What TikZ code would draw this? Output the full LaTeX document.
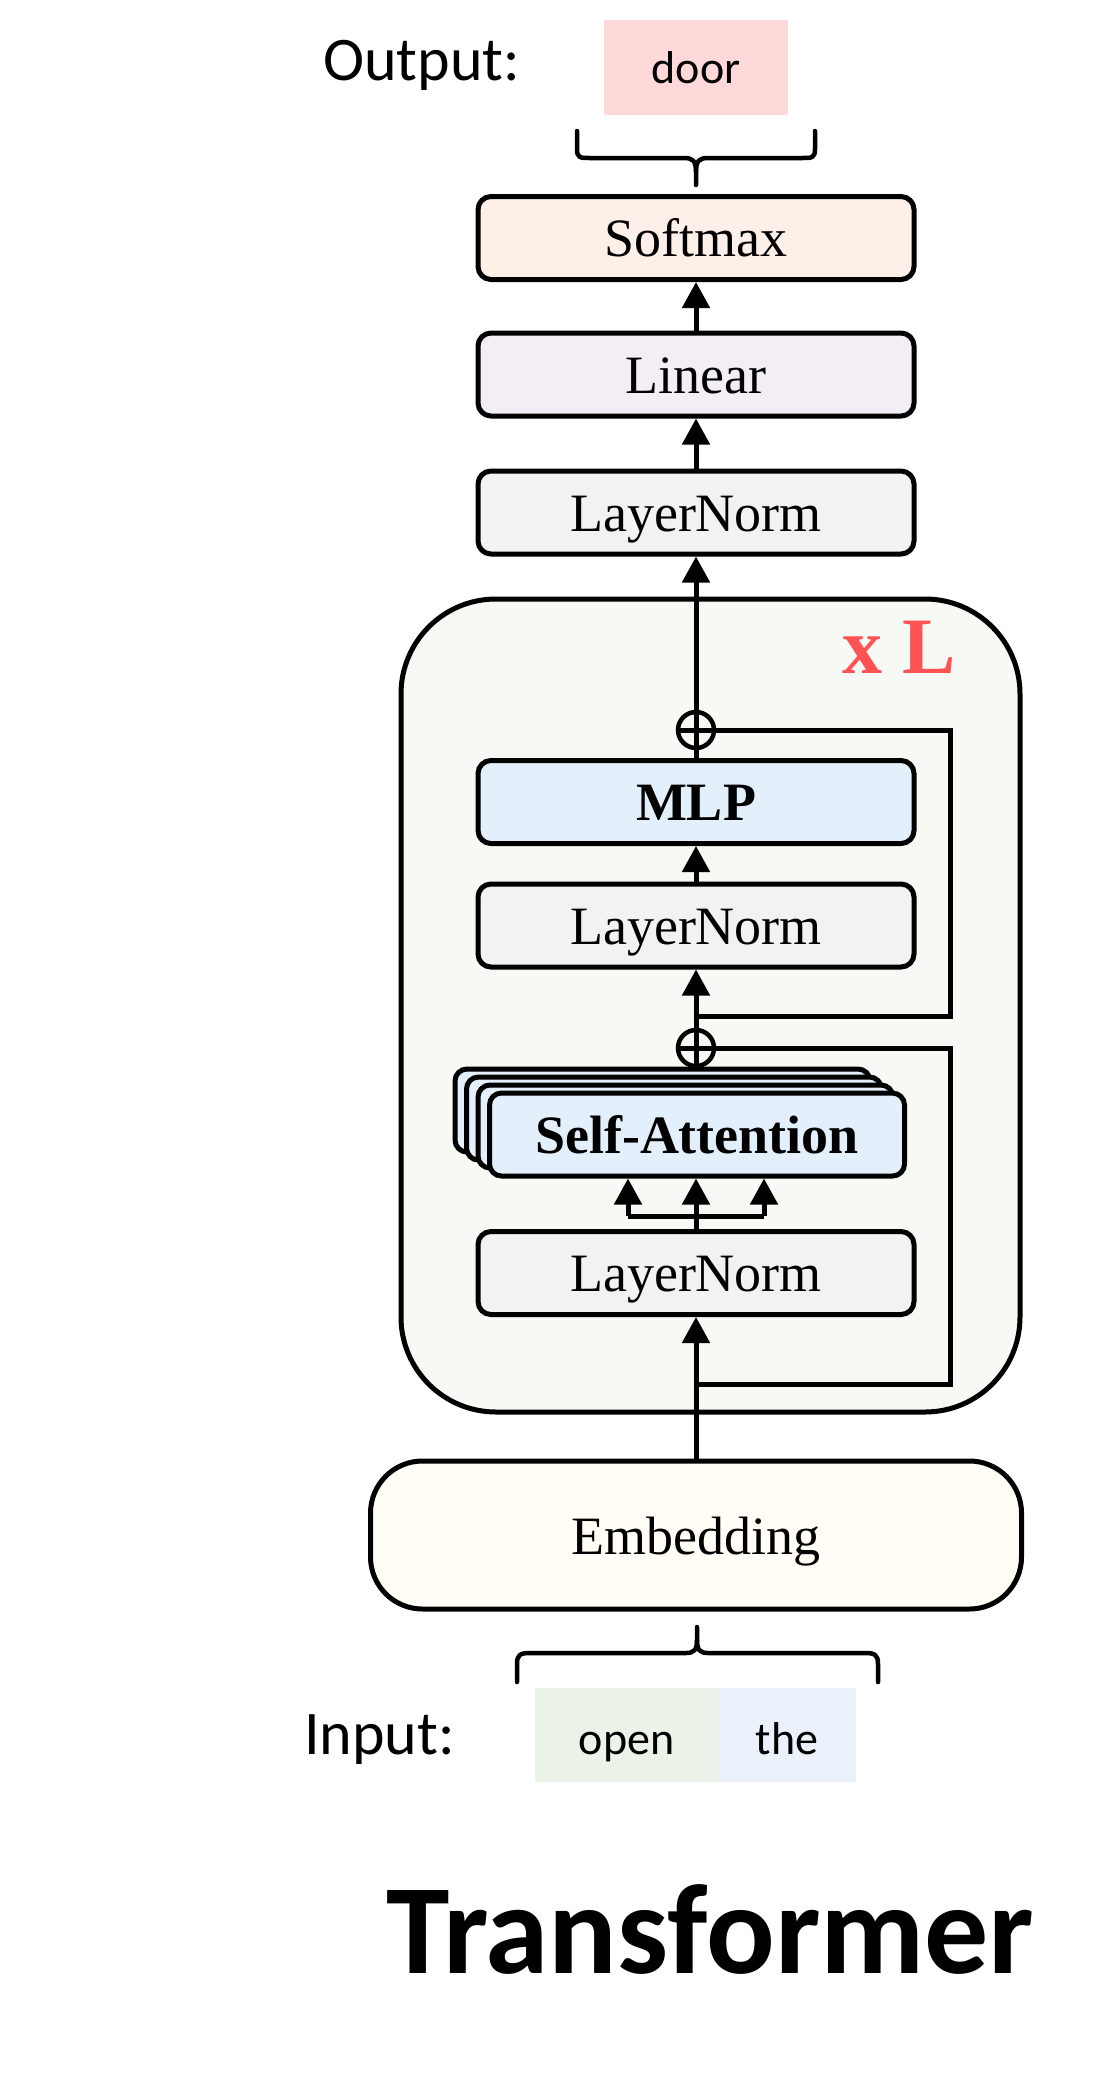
\documentclass[tikz,border=0pt]{standalone}
\usepackage{fontspec}
\setmainfont{Liberation Serif}
\newfontfamily\calfont{Carlito}
\usetikzlibrary{arrows.meta}
\definecolor{softc}{HTML}{FDF0E9}
\definecolor{linc}{HTML}{F3EEF5}
\definecolor{lnc}{HTML}{F2F2F2}
\definecolor{bluec}{HTML}{E3EFFB}
\definecolor{blockc}{HTML}{F7F9F4}
\definecolor{embc}{HTML}{FFFDF5}
\definecolor{doorc}{HTML}{FFD8D9}
\definecolor{openc}{HTML}{EBF3E9}
\definecolor{thec}{HTML}{EAF1FA}
\definecolor{redc}{HTML}{FF5353}
\begin{document}
\begin{tikzpicture}[x=1pt,y=-1pt,
  line/.style={line width=5pt},
  arr/.style={line width=5pt,-{Triangle[width=27pt,length=26pt]}},
  blk/.style={draw,line width=5pt,rounded corners=13pt,minimum width=436pt,minimum height=83pt,
    inner sep=0pt,font=\fontsize{54}{60}\selectfont,text height=37pt,text depth=0pt},
  sablk/.style={blk,fill=bluec,minimum width=415pt,rounded corners=12pt,font=\fontsize{54}{60}\selectfont\bfseries},
  oplus/.style={draw,line width=4.5pt,circle,minimum size=36pt,inner sep=0pt},
  sans/.style={inner sep=0pt,anchor=base west,font=\calfont\fontsize{62}{70}\selectfont},
  tok/.style={inner sep=0pt,minimum height=94pt,font=\calfont\fontsize{46}{52}\selectfont,text height=38pt,text depth=0pt},
  brace/.style={line width=4.5pt,line join=round,line cap=round}]
\useasboundingbox (0,0) rectangle (1114,2086);

% repeated block
\node[draw,line width=5pt,fill=blockc,rounded corners=95pt,minimum width=619pt,minimum height=813pt,inner sep=0pt] (block) at (710.5,1005.5) {};
\node[inner sep=0pt,anchor=base west,text=redc,font=\fontsize{80}{82}\selectfont\bfseries] (rep) at (842,673) {x L};

% output
\node[sans] (outlbl) at (323,80) {Output:};
\node[tok,fill=doorc,minimum width=184pt,minimum height=95pt,text height=31pt] (door) at (696,67.5) {door};
\draw[brace] (577,131) -- (577,149) .. controls (577,158) and (580,158) .. (590,158) -- (684,158) .. controls (693,158) and (696,161) .. (696,172) -- (696,185);
\draw[brace] (815,131) -- (815,149) .. controls (815,158) and (812,158) .. (802,158) -- (708,158) .. controls (699,158) and (696,161) .. (696,172);

% head
\node[blk,fill=softc] (soft) at (696,238) {Softmax};
\node[blk,fill=linc] (lin) at (696,374.5) {Linear};
\node[blk,fill=lnc] (lnf) at (696,512.5) {LayerNorm};

% inside block
\node[oplus] (op1) at (696,730) {};
\node[blk,fill=bluec,font=\fontsize{54}{60}\selectfont\bfseries] (mlp) at (696,802) {MLP};
\node[blk,fill=lnc] (ln2) at (696,925.5) {LayerNorm};
\node[oplus] (op2) at (696,1048) {};
\node[sablk] (sa3) at (662.5,1110.5) {};
\node[sablk] (sa2) at (674,1118.5) {};
\node[sablk] (sa1) at (685.5,1126.5) {};
\node[sablk] (sa) at (697,1134.5) {Self-Attention};
\node[blk,fill=lnc] (ln3) at (696,1273) {LayerNorm};

% embedding
\node[draw,line width=5pt,fill=embc,rounded corners=52pt,minimum width=651pt,minimum height=148pt,inner sep=0pt,
  font=\fontsize{54}{60}\selectfont,text height=38pt,text depth=0pt] (emb) at (696,1535) {Embedding};

% input
\draw[brace] (517,1682) -- (517,1664) .. controls (517,1655) and (520,1653) .. (530,1653) -- (686,1653) .. controls (694,1653) and (697,1650) .. (697,1640) -- (697,1627);
\draw[brace] (878,1682) -- (878,1664) .. controls (878,1655) and (875,1653) .. (865,1653) -- (708,1653) .. controls (700,1653) and (697,1650) .. (697,1640);
\node[sans] (inlbl) at (304,1754) {Input:};
\node[tok,fill=openc,minimum width=183pt] (open) at (626.5,1735) {open};
\node[tok,fill=thec,minimum width=138pt] (the) at (787,1735) {the};

\node[inner sep=0pt,anchor=base west,font=\calfont\bfseries\fontsize{128}{136}\selectfont] (title) at (386,1973) {Transformer};

% main path
\coordinate (b1) at (696,1384);
\coordinate (b2) at (696,1016);
\draw[arr] (emb.north) -- (ln3.south);
\draw[arr] (ln3.north) -- (ln3.north |- sa.south);
\coordinate (sl) at (628,1216);
\coordinate (sr) at (764,1216);
\draw[line,line join=miter] (sl) -- (sr);
\draw[arr] (sl) -- (sl |- sa.south);
\draw[arr] (sr) -- (sr |- sa.south);
\draw[line] (op2.north |- sa3.north) -- (op2.south);
\draw[line] (op2.west) -- (op2.east);
\draw[line] (op2.south) -- (op2.north);
\draw[arr] (op2.north) -- (ln2.south);
\draw[arr] (ln2.north) -- (mlp.south);
\draw[line] (mlp.north) -- (op1.south);
\draw[line] (op1.west) -- (op1.east);
\draw[line] (op1.south) -- (op1.north);
\draw[arr] (op1.north) -- (lnf.south);
\draw[arr] (lnf.north) -- (lin.south);
\draw[arr] (lin.north) -- (soft.south);

% residuals
\draw[line,line join=miter] (b1) -- ++(254,0) |- (op2.east);
\draw[line,line join=miter] (b2) -- ++(254,0) |- (op1.east);
\end{tikzpicture}
\end{document}
